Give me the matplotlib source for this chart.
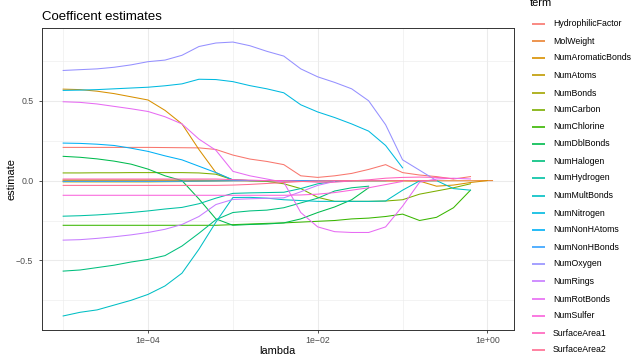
import numpy as np
import matplotlib
matplotlib.use("Agg")
import matplotlib.pyplot as plt
from matplotlib.lines import Line2D

plt.rcParams['font.family'] = ['Liberation Sans', 'DejaVu Sans']

nan = np.nan

# log10(lambda) grid the coefficient paths were read at
log_lambda = [-5.0, -4.8, -4.6, -4.4, -4.2, -4.0, -3.8, -3.6, -3.4, -3.2,
              -3.0, -2.8, -2.6, -2.4, -2.2, -2.0, -1.8, -1.6, -1.4, -1.2,
              -1.0, -0.8, -0.6, -0.4, -0.2, 0.0, 0.06]

terms = ['HydrophilicFactor', 'MolWeight', 'NumAromaticBonds', 'NumAtoms',
         'NumBonds', 'NumCarbon', 'NumChlorine', 'NumDblBonds', 'NumHalogen',
         'NumHydrogen', 'NumMultBonds', 'NumNitrogen', 'NumNonHAtoms',
         'NumNonHBonds', 'NumOxygen', 'NumRings', 'NumRotBonds', 'NumSulfer',
         'SurfaceArea1', 'SurfaceArea2']

hydrophilic_factor = [0.208, 0.208, 0.208, 0.208, 0.208, 0.208, 0.207, 0.206, 0.205, 0.195,
                      0.160, 0.135, 0.120, 0.100, 0.030, 0.020, 0.030, 0.045, 0.070, 0.100,
                      0.050, 0.035, 0.025, 0.010, 0.025, nan, nan]
mol_weight = [-0.001, -0.001, -0.001, -0.001, -0.001, -0.001, -0.001, -0.001, -0.001, -0.001,
              -0.001, -0.001, -0.001, -0.001, -0.001, -0.001, -0.001, -0.001, -0.001, -0.001,
              -0.001, -0.001, -0.001, -0.001, -0.001, 0.000, 0.000]
num_aromatic_bonds = [0.573, 0.570, 0.560, 0.545, 0.525, 0.505, 0.440, 0.355, 0.195, 0.050,
                      0.002, 0.000, 0.000, 0.000, 0.000, 0.000, 0.000, 0.000, 0.000, 0.000,
                      0.000, -0.003, -0.035, -0.028, -0.012, 0.000, nan]
num_atoms = [0.004, 0.004, 0.004, 0.004, 0.004, 0.004, 0.004, 0.003, 0.003, 0.002,
             0.001, 0.000, 0.000, 0.000, 0.000, 0.000, 0.000, 0.000, 0.000, 0.000,
             0.000, 0.000, 0.000, nan, nan, nan, nan]
num_bonds = [-0.008, -0.008, -0.008, -0.008, -0.008, -0.008, -0.007, -0.006, -0.004, -0.002,
             0.000, 0.000, 0.000, 0.000, 0.000, 0.000, 0.000, 0.000, 0.000, 0.000,
             0.000, nan, nan, nan, nan, nan, nan]
num_carbon = [0.048, 0.048, 0.049, 0.049, 0.050, 0.050, 0.050, 0.050, 0.048, 0.040,
              0.005, 0.000, -0.005, -0.020, -0.050, -0.105, -0.130, -0.130, -0.130, -0.128,
              -0.120, -0.085, -0.065, -0.045, -0.020, nan, nan]
num_chlorine = [-0.280, -0.280, -0.280, -0.280, -0.280, -0.280, -0.280, -0.280, -0.280, -0.280,
                -0.276, -0.272, -0.268, -0.265, -0.260, -0.255, -0.250, -0.240, -0.235, -0.225,
                -0.210, -0.250, -0.230, -0.170, -0.060, nan, nan]
num_dbl_bonds = [0.152, 0.146, 0.136, 0.122, 0.103, 0.072, 0.030, 0.000, -0.115, -0.240,
                 -0.280, -0.275, -0.272, -0.265, -0.240, -0.200, -0.165, -0.120, -0.045, nan,
                 nan, nan, nan, nan, nan, nan, nan]
num_halogen = [-0.567, -0.560, -0.545, -0.530, -0.510, -0.494, -0.470, -0.410, -0.330, -0.245,
               -0.200, -0.190, -0.185, -0.170, -0.140, -0.110, -0.065, -0.045, -0.035, nan,
               nan, nan, nan, nan, nan, nan, nan]
num_hydrogen = [-0.223, -0.220, -0.215, -0.208, -0.200, -0.190, -0.178, -0.168, -0.145, -0.110,
                -0.080, -0.077, -0.075, -0.073, -0.050, -0.020, -0.005, 0.000, nan, nan,
                nan, nan, nan, nan, nan, nan, nan]
num_mult_bonds = [-0.848, -0.825, -0.810, -0.780, -0.750, -0.713, -0.660, -0.580, -0.430, -0.260,
                  -0.106, -0.105, -0.110, -0.120, -0.125, -0.130, -0.130, -0.130, -0.130, -0.128,
                  -0.060, -0.002, 0.000, -0.050, -0.060, nan, nan]
num_nitrogen = [0.565, 0.567, 0.570, 0.575, 0.580, 0.585, 0.594, 0.606, 0.635, 0.633,
                0.620, 0.595, 0.575, 0.550, 0.475, 0.430, 0.395, 0.355, 0.310, 0.220,
                0.080, nan, nan, nan, nan, nan, nan]
num_non_h_atoms = [0.235, 0.233, 0.228, 0.220, 0.203, 0.183, 0.155, 0.130, 0.090, 0.050,
                   0.005, 0.000, 0.000, 0.000, 0.000, 0.000, 0.000, 0.000, 0.000, 0.000,
                   nan, nan, nan, nan, nan, nan, nan]
num_non_h_bonds = [-0.005, -0.005, -0.005, -0.005, -0.005, -0.005, -0.005, -0.004, -0.003, -0.002,
                   -0.001, 0.000, 0.000, 0.000, 0.000, 0.000, 0.000, 0.000, 0.000, 0.000,
                   nan, nan, nan, nan, nan, nan, nan]
num_oxygen = [0.690, 0.695, 0.700, 0.710, 0.725, 0.745, 0.755, 0.785, 0.840, 0.862,
              0.868, 0.845, 0.810, 0.780, 0.700, 0.650, 0.615, 0.575, 0.500, 0.350,
              0.130, 0.065, 0.000, nan, nan, nan, nan]
num_rings = [-0.373, -0.370, -0.362, -0.352, -0.340, -0.325, -0.305, -0.275, -0.225, -0.150,
             -0.118, -0.114, -0.111, -0.108, -0.070, -0.030, -0.005, nan, nan, nan,
             nan, nan, nan, nan, nan, nan, nan]
num_rot_bonds = [0.494, 0.490, 0.480, 0.465, 0.450, 0.433, 0.400, 0.355, 0.260, 0.190,
                 0.058, 0.030, 0.010, -0.010, -0.200, -0.290, -0.320, -0.325, -0.325, -0.290,
                 -0.160, -0.010, 0.010, 0.015, 0.010, nan, nan]
num_sulfer = [-0.092, -0.092, -0.092, -0.092, -0.092, -0.092, -0.092, -0.092, -0.092, -0.092,
              -0.092, -0.092, -0.092, -0.092, -0.090, -0.085, -0.075, -0.060, -0.045, -0.025,
              -0.005, nan, nan, nan, nan, nan, nan]
surface_area1 = [0.010, 0.010, 0.010, 0.010, 0.010, 0.010, 0.010, 0.010, 0.010, 0.010,
                 0.006, 0.003, 0.000, 0.000, -0.005, -0.010, -0.010, -0.002, 0.005, 0.015,
                 0.020, 0.022, 0.020, 0.012, nan, nan, nan]
surface_area2 = [-0.030, -0.030, -0.030, -0.030, -0.030, -0.030, -0.030, -0.030, -0.030, -0.030,
                 -0.028, -0.024, -0.018, -0.012, -0.006, -0.002, 0.000, 0.000, 0.000, 0.000,
                 0.000, 0.000, 0.000, nan, nan, nan, nan]

series = [hydrophilic_factor, mol_weight, num_aromatic_bonds, num_atoms, num_bonds,
          num_carbon, num_chlorine, num_dbl_bonds, num_halogen, num_hydrogen,
          num_mult_bonds, num_nitrogen, num_non_h_atoms, num_non_h_bonds, num_oxygen,
          num_rings, num_rot_bonds, num_sulfer, surface_area1, surface_area2]

# ggplot default hue palette for 20 levels
colors = ['#F8766D', '#EA8331', '#D89000', '#C09B00', '#A3A500', '#7CAE00', '#39B600',
          '#00BB4E', '#00BF7D', '#00C1A3', '#00BFC4', '#00BAE0', '#00B0F6', '#35A2FF',
          '#9590FF', '#C77CFF', '#E76BF3', '#FA62DB', '#FF62BC', '#FF6C91']

W, H = 632, 356
fig = plt.figure(figsize=(W / 100, H / 100), dpi=100)
left, right, top, bottom = 41.7, 514, 28, 330
ax = fig.add_axes([left / W, 1 - bottom / H, (right - left) / W, (bottom - top) / H])

lam = 10 ** np.array(log_lambda)
for vals, c in zip(series, colors):
    ax.plot(lam, vals, color=c, lw=0.75)

ax.set_xscale('log')
ax.set_xlim(10 ** -5.253, 10 ** 0.313)
ax.set_ylim(-0.936, 0.956)

ax.set_xticks([1e-4, 1e-2, 1])
ax.set_xticklabels(['1e\u221204', '1e\u221202', '1e+00'])
ax.set_xticks([1e-5, 1e-3, 1e-1], minor=True)
ax.set_yticks([-0.5, 0, 0.5])
ax.set_yticklabels(['\u22120.5', '0.0', '0.5'])
ax.set_yticks([-0.75, -0.25, 0.25, 0.75], minor=True)
ax.xaxis.set_minor_formatter(plt.NullFormatter())

ax.grid(which='major', color='#EBEBEB', lw=0.75)
ax.grid(which='minor', color='#EBEBEB', lw=0.4)
ax.set_axisbelow(True)
ax.tick_params(which='major', length=2, width=0.6, color='#333333',
               labelsize=6.3, labelcolor='#4D4D4D')
ax.tick_params(axis='x', pad=2)
ax.tick_params(axis='y', pad=4)
ax.tick_params(which='minor', length=0)
for s in ax.spines.values():
    s.set_color('#333333')
    s.set_linewidth(0.7)

ax.set_xlabel('lambda', fontsize=7.9)
ax.xaxis.set_label_coords(0.5, -0.069)
ax.xaxis.label.set_va('center')
ax.set_ylabel('estimate', fontsize=7.9)
ax.yaxis.set_label_coords(-0.064, 0.5)
ax.yaxis.label.set_va('center')

fig.text(left / W, 1 - 20 / H, 'Coefficent estimates', fontsize=9.5, va='baseline')

# legend, drawn by hand so the overflow matches the reference
fig.text(530 / W, 1 - 6.5 / H, 'term', fontsize=7.9, va='baseline')
for i, (name, c) in enumerate(zip(terms, colors)):
    ypx = round(24 + i * 17.16)
    y = 1 - ypx / H
    fig.add_artist(Line2D([532 / W, 545 / W], [y, y], transform=fig.transFigure,
                          color=c, lw=1.2, solid_capstyle='butt'))
    fig.text(553 / W, y, name, fontsize=6.3, va='center')

fig.savefig('out.png', dpi=100)
